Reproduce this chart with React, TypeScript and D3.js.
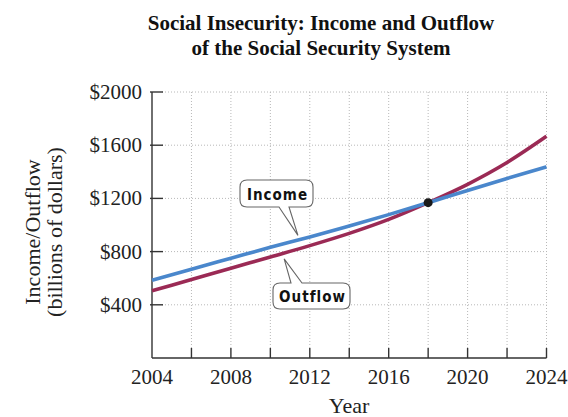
import React from "react";
import * as d3 from "d3";

const years = [2004, 2006, 2008, 2010, 2012, 2014, 2016, 2018, 2020, 2022, 2024];
const income = [585, 668, 750, 832, 910, 993, 1078, 1168, 1260, 1350, 1437];
const outflow = [505, 590, 675, 760, 845, 937, 1042, 1168, 1306, 1470, 1667];
const xTicks = [2004, 2008, 2012, 2016, 2020, 2024];
const xMinorTicks = [2004, 2006, 2008, 2010, 2012, 2014, 2016, 2018, 2020, 2022, 2024];
const yTicks = [400, 800, 1200, 1600, 2000];
const crossing = { year: 2018, value: 1168 };
const titleLines = ["Social Insecurity: Income and Outflow", "of the Social Security System"];
const yLabelLines = ["Income/Outflow", "(billions of dollars)"];

const W = 568;
const H = 417;
const m = { left: 152, right: 546.5, top: 92, bottom: 358 };

export default function App() {
  const x = d3.scaleLinear().domain([2004, 2024]).range([m.left, m.right]);
  const y = d3.scaleLinear().domain([0, 2000]).range([m.bottom, m.top]);

  const line = d3
    .line<number>()
    .x((_, i) => x(years[i]))
    .y((d) => y(d))
    .curve(d3.curveMonotoneX);

  const serif = "'Liberation Serif', 'Times New Roman', serif";
  const label = "'Liberation Sans Narrow', 'DejaVu Sans Condensed', sans-serif";

  const incTip = [x(2011.4), y(922)];
  const outTip = [x(2010.7), y(745)];

  const incBox = { x: 240, y: 180, w: 73, h: 27 };
  const outBox = { x: 273, y: 283, w: 77, h: 26 };

  const calloutPath = (
    b: { x: number; y: number; w: number; h: number },
    tip: number[],
    side: "bottom" | "top",
    p1: number,
    p2: number
  ) => {
    const r = 7;
    const { x: bx, y: by, w, h } = b;
    const R = bx + w;
    const B = by + h;
    if (side === "bottom") {
      return `M${bx + r},${by} H${R - r} Q${R},${by} ${R},${by + r} V${B - r} Q${R},${B} ${R - r},${B} H${p2} L${tip[0]},${tip[1]} L${p1},${B} H${bx + r} Q${bx},${B} ${bx},${B - r} V${by + r} Q${bx},${by} ${bx + r},${by} Z`;
    }
    return `M${bx + r},${by} H${p1} L${tip[0]},${tip[1]} L${p2},${by} H${R - r} Q${R},${by} ${R},${by + r} V${B - r} Q${R},${B} ${R - r},${B} H${bx + r} Q${bx},${B} ${bx},${B - r} V${by + r} Q${bx},${by} ${bx + r},${by} Z`;
  };

  return (
    <svg
      width={W}
      height={H}
      style={{ position: "absolute", left: 0, top: 0, background: "#fff" }}
    >
      {titleLines.map((t, i) => (
        <text
          key={t}
          x={321}
          y={30 + i * 25}
          textAnchor="middle"
          fontFamily={serif}
          fontWeight="bold"
          fontSize={21}
          fill="#111"
        >
          {t}
        </text>
      ))}

      <g stroke="#b8b8b8" strokeWidth={1} strokeDasharray="1,2">
        {yTicks.map((v) => (
          <line key={"h" + v} x1={m.left + 10} x2={m.right} y1={y(v)} y2={y(v)} />
        ))}
        {xMinorTicks.slice(1).map((v) => (
          <line key={"v" + v} x1={x(v)} x2={x(v)} y1={m.top} y2={m.bottom - 10} />
        ))}
      </g>

      <g stroke="#333" strokeWidth={1.4} fill="none">
        <line x1={m.left} x2={m.left} y1={m.top} y2={m.bottom} />
        <line x1={m.left} x2={m.right} y1={m.bottom} y2={m.bottom} />
        {yTicks.map((v) => (
          <line key={"yt" + v} x1={m.left - 2} x2={m.left + 11} y1={y(v)} y2={y(v)} />
        ))}
        {xMinorTicks.slice(1).map((v) => (
          <line key={"xt" + v} x1={x(v)} x2={x(v)} y1={m.bottom} y2={m.bottom - 10} />
        ))}
      </g>

      {yTicks.map((v) => (
        <text
          key={"yl" + v}
          x={142}
          y={y(v) + 7}
          textAnchor="end"
          fontFamily={serif}
          fontSize={21}
          fill="#222"
        >
          {"$" + v}
        </text>
      ))}
      {xTicks.map((v) => (
        <text
          key={"xl" + v}
          x={x(v)}
          y={383.5}
          textAnchor="middle"
          fontFamily={serif}
          fontSize={21}
          fill="#222"
        >
          {v}
        </text>
      ))}

      <text x={349} y={413} textAnchor="middle" fontFamily={serif} fontSize={22} fill="#222">
        Year
      </text>
      {yLabelLines.map((t, i) => (
        <text
          key={t}
          transform={`translate(${40 + i * 22},232) rotate(-90)`}
          textAnchor="middle"
          fontFamily={serif}
          fontSize={22}
          fill="#222"
        >
          {t}
        </text>
      ))}

      <path d={line(outflow) || ""} fill="none" stroke="#9b2a55" strokeWidth={3.6} />
      <path d={line(income) || ""} fill="none" stroke="#4a87cc" strokeWidth={3.6} />
      <circle cx={x(crossing.year)} cy={y(crossing.value)} r={4.5} fill="#1a1a1a" />

      <path
        d={calloutPath(incBox, incTip, "bottom", 279, 289)}
        fill="#fff"
        stroke="#666"
        strokeWidth={1.1}
      />
      <text
        x={incBox.x + incBox.w / 2 + 1}
        y={incBox.y + 19.5}
        textAnchor="middle"
        fontFamily={label}
        fontWeight="bold"
        fontSize={15}
        letterSpacing={1}
        fill="#111"
      >
        Income
      </text>
      <path
        d={calloutPath(outBox, outTip, "top", 291, 302)}
        fill="#fff"
        stroke="#666"
        strokeWidth={1.1}
      />
      <text
        x={outBox.x + outBox.w / 2 + 1}
        y={outBox.y + 19}
        textAnchor="middle"
        fontFamily={label}
        fontWeight="bold"
        fontSize={15}
        letterSpacing={1}
        fill="#111"
      >
        Outflow
      </text>
    </svg>
  );
}
